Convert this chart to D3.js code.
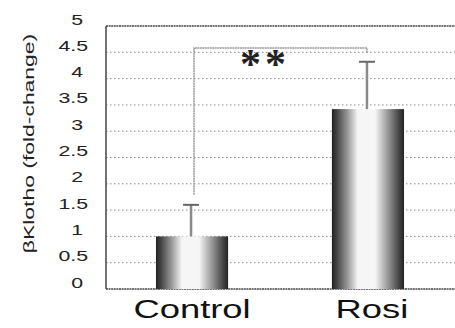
<!DOCTYPE html>
<html>
<head>
<meta charset="utf-8">
<script src="https://cdn.jsdelivr.net/npm/d3@7/dist/d3.min.js"></script>
<style>
  html, body { margin: 0; padding: 0; background: #fff; }
  svg { display: block; }
</style>
</head>
<body>
<svg id="chart" width="455" height="328"></svg>
<script>
// Groups and mean fold-change with upper error bar
const groups = ["Control", "Rosi"];
const means = [1.0, 3.42];
const errUpper = [1.6, 4.32];

// Y axis ticks
const yTicks = [0, 0.5, 1, 1.5, 2, 2.5, 3, 3.5, 4, 4.5, 5];
const yTickLabels = ["0", "0.5", "1", "1.5", "2", "2.5", "3", "3.5", "4", "4.5", "5"];

// Significance bracket between the two groups (heights in data units)
const bracketTop = 4.58;
const bracketEnds = [1.79, 4.49];
const sigLabel = "**";

const yTitle = "βKlotho (fold-change)";

const svg = d3.select("#chart");
const plotLeft = 106, plotRight = 455, plotTop = 26, plotBottom = 289;
const sans = "Liberation Sans, Arial, sans-serif";

const x = d3.scaleBand()
  .domain(groups)
  .range([plotLeft, 454])
  .paddingInner(0.59)
  .paddingOuter(0.284);

const y = d3.scaleLinear().domain([0, 5]).range([plotBottom, plotTop]);

// Cylinder-like shading for the bars
const defs = svg.append("defs");
const grad = defs.append("linearGradient").attr("id", "barShade")
  .attr("x1", "0%").attr("x2", "100%").attr("y1", "0%").attr("y2", "0%");
[[0, "#222"], [0.08, "#4a4a4a"], [0.22, "#9a9a9a"], [0.36, "#f6f6f6"],
 [0.6, "#f6f6f6"], [0.76, "#a0a0a0"], [0.92, "#4a4a4a"], [1, "#222"]]
  .forEach(([o, c]) => grad.append("stop").attr("offset", o).attr("stop-color", c));

// Horizontal dotted gridlines
svg.append("g").selectAll("line")
  .data(yTicks.filter(t => t > 0 && t < 5))
  .join("line")
  .attr("x1", plotLeft).attr("x2", plotRight)
  .attr("y1", d => y(d)).attr("y2", d => y(d))
  .attr("stroke", "#8a8a8a")
  .attr("stroke-width", 1)
  .attr("stroke-dasharray", "1.5,2.5");

// Plot frame: top, left and bottom edges
const frame = svg.append("g").attr("fill", "none").attr("stroke", "#444").attr("stroke-width", 1.5);
frame.append("line").attr("x1", plotLeft).attr("x2", plotRight).attr("y1", y(5)).attr("y2", y(5))
  .attr("stroke-dasharray", "2,0.6");
frame.append("line").attr("x1", plotLeft).attr("x2", plotLeft).attr("y1", y(5)).attr("y2", y(0));

// Y tick labels (wide letterforms)
svg.append("g").selectAll("text")
  .data(yTicks)
  .join("text")
  .attr("transform", (d, i) =>
    `translate(${yTickLabels[i].includes(".") ? 88 : 83}, ${y(d) - 1.5}) scale(1.42, 1)`)
  .attr("text-anchor", "end")
  .attr("font-family", sans)
  .attr("font-size", 15)
  .attr("fill", "#222")
  .text((d, i) => yTickLabels[i]);

// Y axis title (letterforms elongated along the text)
svg.append("text")
  .attr("transform", "translate(34, 143.5) rotate(-90) scale(1.58, 1)")
  .attr("text-anchor", "middle")
  .attr("font-family", sans)
  .attr("font-size", 14.5)
  .attr("fill", "#222")
  .text(yTitle);

// Bars
svg.append("g").selectAll("rect")
  .data(groups)
  .join("rect")
  .attr("x", d => x(d))
  .attr("width", x.bandwidth())
  .attr("y", (d, i) => y(means[i]))
  .attr("height", (d, i) => y(0) - y(means[i]))
  .attr("fill", "url(#barShade)");

// Bottom axis line drawn over the bar bases
frame.append("line").attr("x1", plotLeft).attr("x2", plotRight).attr("y1", y(0)).attr("y2", y(0))
  .attr("stroke-dasharray", "2,0.6");

// Upper error bars
const eb = svg.append("g");
eb.selectAll("line.stem")
  .data(groups)
  .join("line").attr("class", "stem")
  .attr("x1", d => x(d) + x.bandwidth() / 2 - 1)
  .attr("x2", d => x(d) + x.bandwidth() / 2 - 1)
  .attr("y1", (d, i) => y(means[i]))
  .attr("y2", (d, i) => y(errUpper[i]))
  .attr("stroke", "#8a8a8a")
  .attr("stroke-width", 2.5);
eb.selectAll("line.cap")
  .data(groups)
  .join("line").attr("class", "cap")
  .attr("x1", d => x(d) + x.bandwidth() / 2 - 9)
  .attr("x2", d => x(d) + x.bandwidth() / 2 + 7)
  .attr("y1", (d, i) => y(errUpper[i]))
  .attr("y2", (d, i) => y(errUpper[i]))
  .attr("stroke", "#666")
  .attr("stroke-width", 2);

// Significance bracket
const bx0 = x(groups[0]) + x.bandwidth() / 2 + 2;
const bx1 = x(groups[1]) + x.bandwidth() / 2 - 1;
svg.append("path")
  .attr("d", d3.line()([[bx0, y(bracketEnds[0])], [bx0, y(bracketTop)],
                        [bx1, y(bracketTop)], [bx1, y(bracketEnds[1])]]))
  .attr("fill", "none")
  .attr("stroke", "#999")
  .attr("stroke-width", 1.5)
  .attr("stroke-dasharray", "2,0.5");

svg.append("text")
  .attr("x", 265)
  .attr("y", 78)
  .attr("text-anchor", "middle")
  .attr("font-family", "Liberation Serif, Times New Roman, serif")
  .attr("font-weight", "bold")
  .attr("font-size", 42)
  .attr("letter-spacing", 4)
  .attr("fill", "#222")
  .text(sigLabel);

// Group labels (wide letterforms)
svg.append("g").selectAll("text")
  .data(groups)
  .join("text")
  .attr("transform", (d, i) =>
    `translate(${x(d) + x.bandwidth() / 2 + (i === 1 ? 4 : 0)}, 317.5) scale(1.4, 1)`)
  .attr("text-anchor", "middle")
  .attr("font-family", sans)
  .attr("font-size", 26)
  .attr("fill", "#111")
  .text(d => d);
</script>
</body>
</html>
